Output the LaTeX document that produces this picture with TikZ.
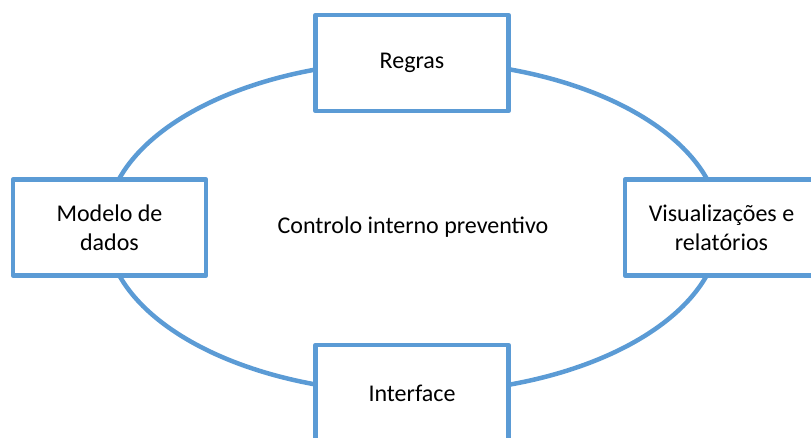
\documentclass[tikz,border=0pt]{standalone}
\usepackage{fontspec}
\setmainfont{Carlito}
\usepackage{tikz}
\usetikzlibrary{shapes.geometric}
\definecolor{ringblue}{RGB}{91,155,213}

\begin{document}
\begin{tikzpicture}[x=1pt, y=-1pt,
    font=\fontsize{24}{29}\selectfont,
    ring/.style={ellipse, draw=ringblue, line width=4.5pt, inner sep=0pt,
      minimum width=614pt, minimum height=332pt},
    box/.style={rectangle, draw=ringblue, fill=white, line width=4.5pt,
      line join=round, align=center, minimum width=193pt, minimum height=96pt}]
    \useasboundingbox (0,0) rectangle (811,437);
    \clip (0,0) rectangle (811,437);
    % cycle with the four parts
    \node[ring] (ciclo) at (413,227) {Controlo interno preventivo};
    \node[box] (regras) at (412,63) {Regras};
    \node[box] (modelo) at (109.5,227.5) {Modelo de\\dados};
    \node[box] (visual) at (721.5,227.5) {Visualizações e\\relatórios};
    \node[box] (interface) at (412,393) {Interface};
  \end{tikzpicture}
\end{document}
